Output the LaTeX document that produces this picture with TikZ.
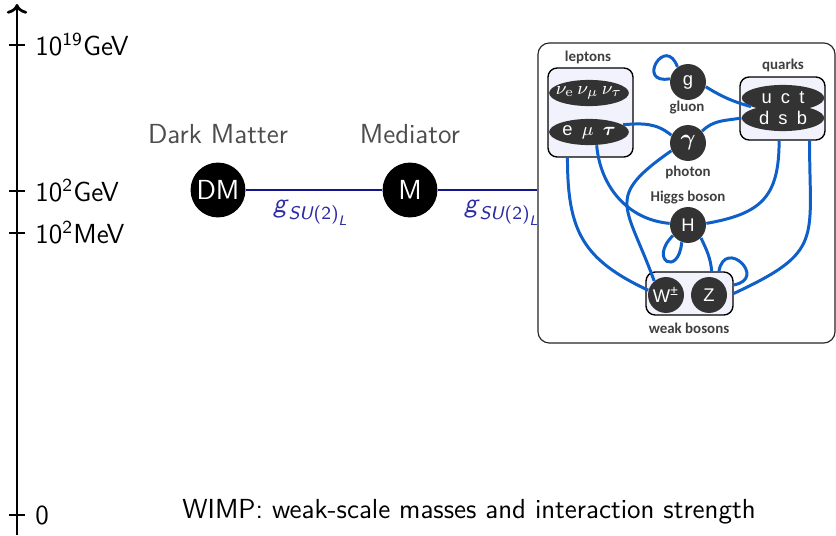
\documentclass[tikz,border=0pt]{standalone}
\usepackage{fontspec}
\usepackage{amsmath,amssymb}
\usepackage{tikz}
\usetikzlibrary{arrows.meta, shapes.geometric, positioning, calc}
\newfontfamily\calibold{Carlito}
\newfontfamily\arialfont{Liberation Sans}
\definecolor{navyline}{HTML}{14148C}
\definecolor{navytext}{HTML}{2B2BA6}
\definecolor{smblue}{HTML}{0F5FC8}
\definecolor{ballgray}{HTML}{333333}
\definecolor{boxlilac}{HTML}{F2F2FD}
\definecolor{labgray}{HTML}{404040}
\definecolor{titlegray}{HTML}{4D4D4D}

\begin{document}
\begin{tikzpicture}[x=0.01531cm, y=0.01531cm]
  \tikzstyle{scalelab}=[anchor=west, inner sep=0pt, font=\fontsize{12}{14}\sffamily]
  \tikzstyle{big}=[circle, fill=black, text=white, minimum size=0.84cm,
    inner sep=0pt, font=\fontsize{12}{14}\sffamily]
  \tikzstyle{ttl}=[text=titlegray, font=\fontsize{12}{14}\sffamily]
  \tikzstyle{coup}=[text=navytext, font=\fontsize{12}{14}\sffamily]
  \tikzstyle{ball}=[circle, fill=ballgray, text=white, minimum size=0.55cm,
    inner sep=0pt, font=\fontsize{8}{9}\arialfont]
  \tikzstyle{egg}=[ellipse, fill=ballgray, text=white, minimum width=1.22cm,
    minimum height=0.40cm, inner sep=0pt, font=\fontsize{8}{9}\arialfont]
  \tikzstyle{grp}=[draw=black, fill=boxlilac, rounded corners=4pt,
    line width=0.6pt, inner sep=0pt]
  \tikzstyle{tag}=[text=labgray, font=\fontsize{6.5}{7}\calibold\bfseries]
  \tikzstyle{link}=[smblue, line width=1.3pt]

  \useasboundingbox (0,0) rectangle (836,535);

  \coordinate (axbot) at (17,0);
  \coordinate (axtop) at (17,531);
  \draw[line width=1.2pt, ->] (axbot) -- (axtop);
  \foreach \yy/\lab/\nm in {490/{10\textsuperscript{19}GeV}/top,
      344/{10\textsuperscript{2}GeV}/gev, 302/{10\textsuperscript{2}MeV}/mev,
      20/0/zero} {
    \draw[line width=1.2pt] (9,\yy) -- (25,\yy);
    \node[scalelab] (\nm) at (35,\yy) {\lab};
  }

  \node[big] (dm)  at (218,345) {DM};
  \node[big] (med) at (410,345) {M};
  \node[ttl] (dmlab)  at (218,401) {Dark Matter};
  \node[ttl] (medlab) at (410,401) {Mediator};
  \node[coup] (cpl1) at (311,322)
    {$\textsf{\textit{g}}_{\textsf{\textit{SU}}\textsf{(2)}_{\textsf{\textit{L}}}}$};
  \node[coup] (cpl2) at (502,322)
    {$\textsf{\textit{g}}_{\textsf{\textit{SU}}\textsf{(2)}_{\textsf{\textit{L}}}}$};

  \node[draw=black!85, fill=white, rounded corners=5pt, line width=0.5pt,
    minimum width=4.547cm, minimum height=4.593cm, inner sep=0pt]
    (panel) at (686.5,342) {};
  \draw[navyline, line width=1.1pt] (dm) -- (med);
  \draw[navyline, line width=1.1pt] (med) -- (med -| panel.west);

  \node[grp, minimum width=1.301cm, minimum height=1.363cm] (leptons) at (590.5,422.5) {};
  \node[grp, minimum width=1.301cm, minimum height=0.965cm] (quarks) at (782.5,426.5) {};
  \node[grp, minimum width=1.332cm, minimum height=0.658cm] (weak) at (689.5,241.5) {};

  \node[tag] (leptonstag) at (588,478) {leptons};
  \node[tag] (quarkstag)  at (783,470) {quarks};
  \node[tag] (gluontag)   at (687,427) {gluon};
  \node[tag] (photontag)  at (688,363) {photon};
  \node[tag] (higgstag)   at (688,337) {Higgs boson};
  \node[tag] (weaktag)    at (689,207) {weak bosons};

  \node[egg, inner xsep=-3pt] (nus) at (589,442)
    {$\nu_{\mathrm{e}}\,\nu_{\mu}\,\nu_{\tau}$};
  \node[egg] (emt) at (589,403) {e\hspace{4pt}$\mu$\hspace{4pt}$\boldsymbol{\tau}$};
  \node[egg, minimum width=1.26cm] (uct) at (783,437) {u\hspace{4pt}c\hspace{4pt}t};
  \node[egg, minimum width=1.26cm] (dsb) at (783,417) {d\hspace{4pt}s\hspace{4pt}b};
  \node[ball] (g)   at (688,453) {g};
  \node[ball, font=\fontsize{10}{11}\selectfont] (gam) at (688,392) {$\boldsymbol{\gamma}$};
  \node[ball] (H)   at (688,310) {H};
  \node[ball] (W)   at (666,240) {W\textsuperscript{±}};
  \node[ball] (Z)   at (709,240) {Z};

  \draw[link] (g.170) .. controls +(190:35) and +(110:35) .. (g.125);
  \draw[link] (g.-15) to[bend right=8] (uct.195);
  \draw[link] (emt.12) to[out=5, in=140] (gam.155);
  \draw[link] (gam.40) to[out=45, in=190] (dsb.west);
  \draw[link] (leptons.243) to[out=-90, in=155, looseness=1.2] (W.165);
  \draw[link] (emt.-60) to[out=-85, in=175] (H.175);
  \draw[link] (gam.205) to[out=215, in=110, looseness=1.6] (W.130);
  \draw[link] (quarks.264) to[out=-90, in=10, looseness=1.3] (H.5);
  \draw[link] (quarks.310) to[out=-90, in=25, looseness=1.5] (weak.east);
  \draw[link] (H.215) .. controls +(225:35) and +(265:35) .. (H.250);
  \draw[link] (H.-45) to[out=-65, in=95] (weak.45);
  \draw[link] (weak.37) .. controls +(80:35) and +(10:35) .. (weak.11);

  \node[ttl, text=black] (wimp) at (469,23)
    {WIMP: weak-scale masses and interaction strength};
\end{tikzpicture}
\end{document}
